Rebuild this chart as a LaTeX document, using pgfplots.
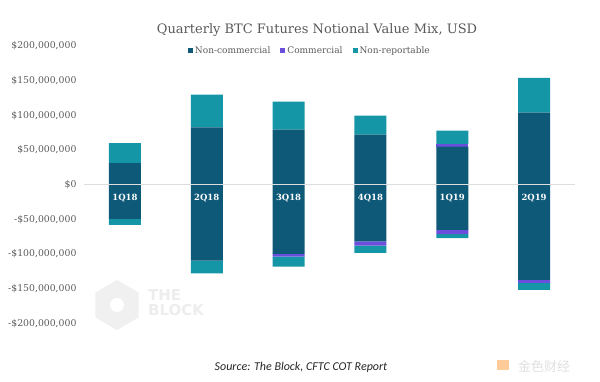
\documentclass[border=0pt]{standalone}
\usepackage{pgfplots}
\pgfplotsset{compat=1.18}
\usepackage{pgfplotstable}
\usepackage{fontspec}
\setmainfont{DejaVu Serif}
\newfontfamily\srcfont{Carlito}
\newfontfamily\wmfont{DejaVu Sans}
\newfontfamily\cjk{Noto Sans CJK SC}
\definecolor{nc}{HTML}{0E5878}
\definecolor{cm}{HTML}{6A4FDC}
\definecolor{nr}{HTML}{1596A6}
\definecolor{txt}{HTML}{595959}
\definecolor{zl}{HTML}{DDDDDD}

\pgfplotstableread{
x nc cm nr
0 31 0 29
1 82.7 0 47
2 79.4 0 40.4
3 72 0 27.6
4 55 3.9 19
5 104 0 50
}\postab
\pgfplotstableread{
x nc cm nr
0 -49.5 0 -8.7
1 -109.7 0 -18.3
2 -100 -3.9 -14.4
3 -82 -5.8 -10.5
4 -65.4 -5.8 -5.8
5 -137.5 -4.3 -10
}\negtab

\pgfplotsset{
 common/.style={
  at={(84pt,58.7pt)}, anchor=south west,
  scale only axis, width=491pt, height=277.3pt,
  xmin=-0.5, xmax=5.5, ymin=-200, ymax=200,
  ybar stacked, bar width=32pt,
 },
 sq/.style={legend image code/.code={\fill[##1,draw=none] (0.5pt,-2.5pt) rectangle (5.5pt,2.5pt);}}
}

\begin{document}
\begin{tikzpicture}
\path[use as bounding box] (0,0) rectangle (600pt,382pt);
% watermark
\fill[black!6] (117pt,77pt) +(90:25pt) -- +(150:25pt) -- +(210:25pt) -- +(270:25pt) -- +(330:25pt) -- +(30:25pt) -- cycle;
\fill[white] (117pt,77pt) circle (7pt);
\node[anchor=west, text=black!7, font=\wmfont\bfseries\fontsize{15}{15}\selectfont, align=left, inner sep=0pt] at (148pt,79pt) {THE\\BLOCK};
\fill[orange!40] (497pt,12pt) rectangle (509pt,22pt);
\node[anchor=west, text=black!12, font=\cjk\fontsize{13}{13}\selectfont, inner sep=0pt] at (518pt,16pt) {金色财经};

\begin{axis}[common, hide axis]
\addplot[fill=nc, draw=none] table[x=x,y=nc]{\postab};
\addplot[fill=cm, draw=none] table[x=x,y=cm]{\postab};
\addplot[fill=nr, draw=none] table[x=x,y=nr]{\postab};
\end{axis}

\begin{axis}[common, axis on top,
  axis x line*=middle, axis y line*=left,
  x axis line style={draw=zl, line width=0.9pt},
  y axis line style={draw=none},
  xtick={0,1,2,3,4,5},
  xticklabels={1Q18,2Q18,3Q18,4Q18,1Q19,2Q19},
  xtick style={draw=none}, ytick style={draw=none},
  xticklabel style={text=white, font=\bfseries\fontsize{8.5}{10}\selectfont, yshift=-6pt},
  ytick={-200,-150,-100,-50,0,50,100,150,200},
  yticklabels={{-\$200,000,000},{-\$150,000,000},{-\$100,000,000},{-\$50,000,000},{\$0},{\$50,000,000},{\$100,000,000},{\$150,000,000},{\$200,000,000}},
  yticklabel style={text=txt, font=\fontsize{9.3}{10}\selectfont, xshift=-4pt},
  legend columns=3,
  legend style={draw=none, fill=none, at={(0.46,0.982)}, anchor=center,
    font=\fontsize{9}{10}\selectfont, text=txt,
    /tikz/every even column/.append style={column sep=8pt}},
]
\addplot[fill=nc, draw=none, sq] table[x=x,y=nc]{\negtab};
\addlegendentry{Non-commercial}
\addplot[fill=cm, draw=none, sq] table[x=x,y=cm]{\negtab};
\addlegendentry{Commercial}
\addplot[fill=nr, draw=none, sq] table[x=x,y=nr]{\negtab};
\addlegendentry{Non-reportable}
\end{axis}

\node[text=txt, font=\fontsize{13}{15}\selectfont] at (317pt,352pt) {Quarterly BTC Futures Notional Value Mix, USD};
\node[text=black!85, font=\srcfont\itshape\fontsize{12}{13}\selectfont] at (301pt,15pt) {Source: The Block, CFTC COT Report};
\end{tikzpicture}
\end{document}
